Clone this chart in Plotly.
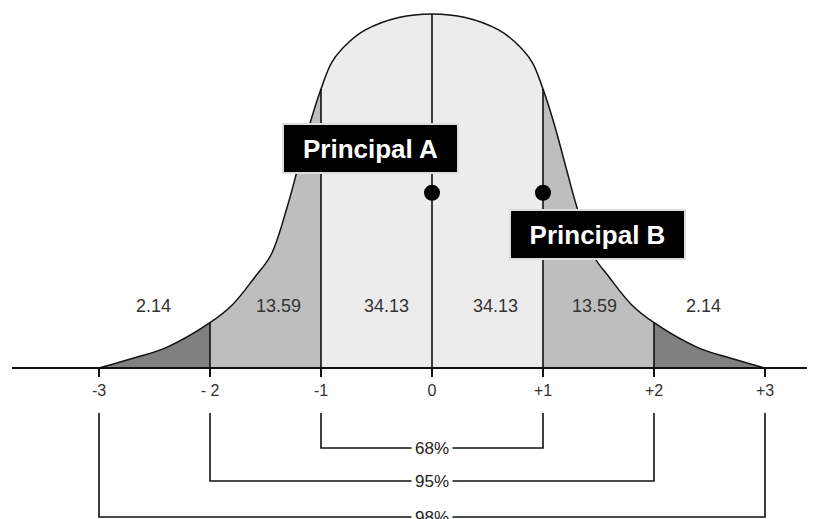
import plotly.graph_objects as go

# curve: position in standard deviations, height relative to the peak
curve_x = [-3, -2.7, -2.4, -2, -1.8, -1.6, -1.45, -1.3, -1.2, -1.1, -1, -0.9, -0.75, -0.6, -0.3, 0,
           0.3, 0.6, 0.75, 0.9, 1, 1.1, 1.2, 1.3, 1.45, 1.6, 1.8, 2, 2.4, 2.7, 3]
curve_h = [0, 0.027, 0.057, 0.128, 0.178, 0.255, 0.32, 0.46, 0.575, 0.69, 0.788, 0.865, 0.92, 0.955, 0.99, 1.0,
           0.99, 0.955, 0.92, 0.865, 0.788, 0.69, 0.575, 0.46, 0.32, 0.255, 0.178, 0.128, 0.057, 0.027, 0]

tick_vals = [-3, -2, -1, 0, 1, 2, 3]
tick_text = ["-3", "- 2", "-1", "0", "+1", "+2", "+3"]
divider_x = [-2, -1, 0, 1, 2]

area_values = ["2.14", "13.59", "34.13", "34.13", "13.59", "2.14"]
area_pos = [-2.51, -1.38, -0.41, 0.57, 1.46, 2.45]

bracket_labels = ["68%", "95%", "98%"]
bracket_sigma = [1, 2, 3]

principal_names = ["Principal A", "Principal B"]
principal_x = [0, 1]
principal_h = [0.495, 0.495]

# page pixels: baseline at 368, 354px up to the peak, 111px per sigma
# the html body has an 8px margin, so the figure is made 8px smaller each way
PAGE_W, PAGE_H, OFF = 815, 519, 8
W, H = PAGE_W - OFF, PAGE_H - OFF
BASE, PEAK, UNIT, ZERO_X, AXIS_START = 368, 354, 111, 432, 12
def yv(px):
    return (BASE - px) / PEAK
def xv(px):
    return (px - ZERO_X) / UNIT

fig = go.Figure()

segments = [(-3, -2, "#808080"), (-2, -1, "#bebebe"), (-1, 1, "#ececec"),
            (1, 2, "#bebebe"), (2, 3, "#808080")]
for a, b, col in segments:
    xs = [x for x in curve_x if a <= x <= b]
    hs = [h for x, h in zip(curve_x, curve_h) if a <= x <= b]
    fig.add_trace(go.Scatter(x=xs, y=hs, mode="lines", line=dict(width=0, shape="spline", color=col),
                             fill="tozeroy", fillcolor=col, hoverinfo="skip"))

height_at = dict(zip(curve_x, curve_h))
for d in divider_x:
    fig.add_trace(go.Scatter(x=[d, d], y=[0, height_at[d]], mode="lines",
                             line=dict(color="#111", width=1.6), hoverinfo="skip"))

fig.add_trace(go.Scatter(x=curve_x, y=curve_h, mode="lines",
                         line=dict(color="#111", width=1.5, shape="spline"), hoverinfo="skip"))

fig.add_trace(go.Scatter(x=principal_x, y=principal_h, mode="markers",
                         marker=dict(color="black", size=16), hoverinfo="skip"))

# brackets under the axis
top = yv(413)
levels = [yv(448), yv(481), yv(517)]
for lab, s, lv in zip(bracket_labels, bracket_sigma, levels):
    fig.add_trace(go.Scatter(x=[-s, -s, s, s], y=[top, lv, lv, top], mode="lines",
                             line=dict(color="#111", width=1.6), hoverinfo="skip"))
    fig.add_annotation(x=0, y=lv, text=lab, showarrow=False, bgcolor="white", borderpad=3,
                       font=dict(size=17, color="#222", family="Liberation Sans, Arial"))

for txt, p in zip(area_values, area_pos):
    fig.add_annotation(x=p, y=yv(306), text=txt, showarrow=False,
                       font=dict(size=18, color="#333", family="Liberation Sans, Arial"))

box_pos = [(xv(370.5), yv(148)), (xv(597.5), yv(234.5))]
for name, (bx, by) in zip(principal_names, box_pos):
    fig.add_annotation(x=bx, y=by, text="<b>%s</b>" % name, showarrow=False,
                       width=171, height=45, borderpad=1, borderwidth=2,
                       bordercolor="#dcdcdc", bgcolor="black",
                       font=dict(size=26, color="white", family="Liberation Sans, Arial"))

fig.update_layout(
    width=W, height=H, margin=dict(l=AXIS_START - OFF, r=0, t=0, b=0),
    plot_bgcolor="white", paper_bgcolor="white", showlegend=False,
    xaxis=dict(range=[xv(AXIS_START), xv(PAGE_W)], showgrid=False, zeroline=False,
               showline=True, linecolor="#111", linewidth=2,
               anchor="free", position=(PAGE_H - BASE) / H,
               tickmode="array", tickvals=tick_vals, ticktext=tick_text,
               ticks="outside", ticklen=8, tickwidth=1.5, tickcolor="#111",
               tickfont=dict(size=16, color="#333", family="Liberation Sans, Arial")),
    yaxis=dict(range=[yv(PAGE_H), yv(OFF)], visible=False),
    hovermode=False,
)

fig.write_html("out.html")
